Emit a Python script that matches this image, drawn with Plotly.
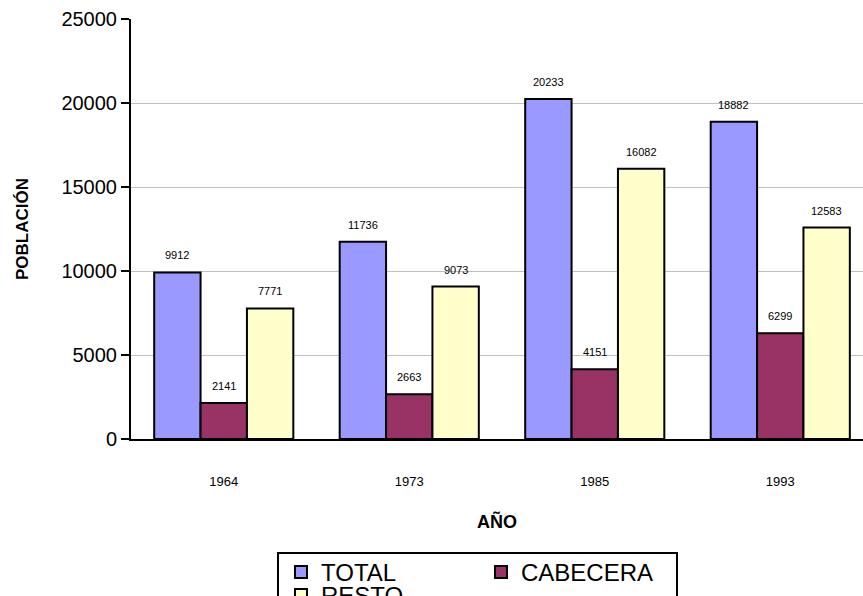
import plotly.graph_objects as go

years = ["1964", "1973", "1985", "1993"]
total = [9912, 11736, 20233, 18882]
cabecera = [2141, 2663, 4151, 6299]
resto = [7771, 9073, 16082, 12583]

series = [
    ("TOTAL", total, "#9999FF", "legend"),
    ("CABECERA", cabecera, "#993366", "legend"),
    ("RESTO", resto, "#FFFFCC", "legend2"),
]

fig = go.Figure()
for name, vals, col, lg in series:
    fig.add_trace(go.Bar(
        name=name, x=years, y=vals, legend=lg,
        marker=dict(color=col, line=dict(color="black", width=2)),
    ))

bargap = 0.25
bw = (1 - bargap) / len(series)
annotations = []
for k, (name, vals, col, lg) in enumerate(series):
    off = (k - (len(series) - 1) / 2) * bw
    for i, v in enumerate(vals):
        annotations.append(dict(
            x=i + off, y=v, xref="x", yref="y", text=str(v),
            showarrow=False, yanchor="middle", yshift=17,
            font=dict(family="Arial, Liberation Sans", size=11, color="black"),
        ))

lx0, lx1 = 0.2008, 0.7459
ly0 = -0.2714
legend_common = dict(
    orientation="h", x=lx0 + 3 / 732, xanchor="left", yanchor="top",
    entrywidth=155, entrywidthmode="pixels",
    borderwidth=0, bgcolor="rgba(0,0,0,0)",
    font=dict(size=24), traceorder="normal",
)

fig.update_layout(
    width=863, height=596,
    margin=dict(l=131, r=0, t=19, b=157, autoexpand=False),
    paper_bgcolor="white", plot_bgcolor="white",
    barmode="group", bargap=bargap, bargroupgap=0,
    font=dict(family="Arial, Liberation Sans", color="black"),
    annotations=annotations,
    shapes=[dict(type="rect", xref="paper", yref="paper",
                 x0=lx0, x1=lx1, y0=ly0, y1=-0.6,
                 line=dict(color="black", width=2), fillcolor="rgba(0,0,0,0)")],
    xaxis=dict(
        type="category", range=[-0.5, 3.446],
        showline=True, linecolor="black", linewidth=2,
        ticks="", ticklabelstandoff=29,
        tickfont=dict(size=13), showgrid=False,
        title=dict(text="<b>AÑO</b>", font=dict(size=18), standoff=28),
    ),
    yaxis=dict(
        range=[0, 25000], dtick=5000, tickformat="d",
        showline=True, linecolor="black", linewidth=2,
        ticks="outside", ticklen=8, tickwidth=2, tickcolor="black",
        tickfont=dict(size=20),
        showgrid=True, gridcolor="#C0C0C0", gridwidth=1,
        zeroline=False,
        title=dict(text="<b>POBLACIÓN</b>", font=dict(size=17), standoff=28),
    ),
    legend=dict(y=ly0 + 3 / 420, **legend_common),
    legend2=dict(y=ly0 - 20 / 420, **legend_common),
)

fig.write_html("out.html", config={"displayModeBar": False},
               post_script="document.body.style.margin='0';")
